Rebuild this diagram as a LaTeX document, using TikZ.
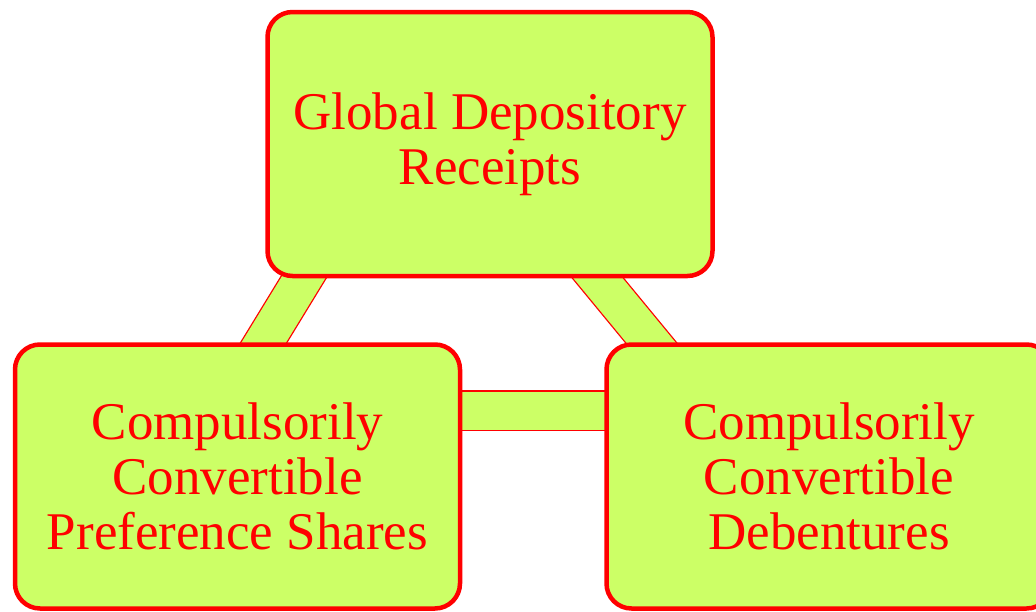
\documentclass[tikz,border=0pt]{standalone}
\usepackage{fontspec}
\setmainfont{Liberation Serif}
\usepackage{tikz}
\usetikzlibrary{calc,shapes,arrows,backgrounds}
\definecolor{boxgreen}{RGB}{204,255,102}
\tikzset{
    secbox/.style={draw=red, line width=4.5pt, fill=boxgreen, rounded corners=25pt,
        minimum width=445pt, minimum height=264pt, align=center, text=red,
        font=\fontsize{53}{55}\selectfont},
    band/.style={draw=red, line width=1.3pt, double=boxgreen, double distance=38pt}
}
\begin{document}
\begin{tikzpicture}[x=1pt,y=-1pt]
        \useasboundingbox (0,0) rectangle (1036,611);
        \node[secbox] (gdr) at (490,144) {Global Depository\\Receipts};
        \node[secbox] (ccps) at (237.5,476.5) {Compulsorily\\Convertible\\Preference Shares};
        \node[secbox] (ccd) at (829,476.5) {Compulsorily\\Convertible\\Debentures};
        % bands behind the boxes
        \coordinate (gdrl) at ($(gdr.center)+(-174,113)$);
        \coordinate (gdrr) at ($(gdr.center)+(90.5,113)$);
        \coordinate (ccpst) at ($(ccps.center)+(12.5,-111.5)$);
        \coordinate (ccdt) at ($(ccd.center)+(-159.5,-111.5)$);
        \coordinate (ccpsr) at ($(ccps.east)+(-10,-66)$);
        \coordinate (ccdl) at ($(ccd.west)+(10,-66)$);
        \begin{scope}[on background layer]
        \draw[band] (gdrl) -- (ccpst);
        \draw[band] (gdrr) -- (ccdt);
        \draw[band] (ccpsr) -- (ccdl);
        \end{scope}
    \end{tikzpicture}
\end{document}
